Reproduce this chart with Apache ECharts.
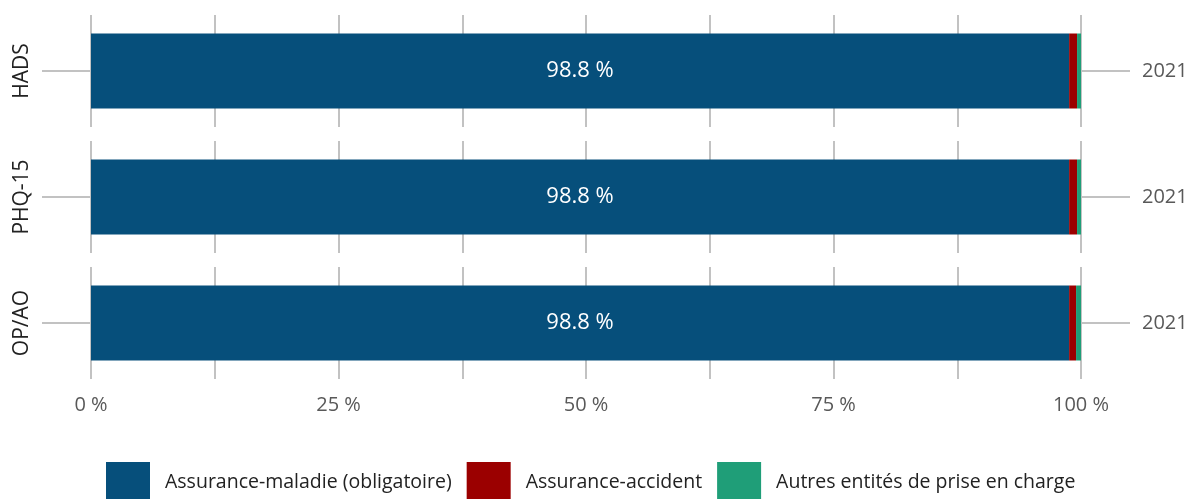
<!DOCTYPE html>
<html>
<head>
<meta charset="utf-8">
<script src="https://cdn.jsdelivr.net/npm/echarts@6/dist/echarts.min.js"></script>
<style>
  html, body { margin: 0; padding: 0; background: #fff; }
  #chart { width: 1192px; height: 499px; }
</style>
</head>
<body>
<div id="chart"></div>
<script>
// données
var categories = ['HADS', 'PHQ-15', 'OP/AO'];
var years = ['2021'];
var seriesNames = ['Assurance-maladie (obligatoire)', 'Assurance-accident', 'Autres entités de prise en charge'];
var maladie = [98.8, 98.8, 98.8];
var accident = [0.8, 0.8, 0.7];
var autres = [0.4, 0.4, 0.5];
var xTicks = [0, 25, 50, 75, 100];

var colors = ['#064f7b', '#9b0000', '#1f9e78'];
var font = 'Open Sans';

var chart = echarts.init(document.getElementById('chart'));

var grids = [], xAxes = [], yAxes = [], series = [];
var values = [maladie, accident, autres];

categories.forEach(function (cat, i) {
    grids.push({ left: 91, right: 111, top: 15 + i * 126, height: 112 });

    xAxes.push({
        type: 'value',
        gridIndex: i,
        min: 0,
        max: 100,
        interval: 12.5,
        axisLine: { show: false },
        axisTick: { show: false },
        splitLine: { lineStyle: { color: '#c2c2c2', width: 2 } },
        axisLabel: {
            show: i === categories.length - 1,
            margin: 16,
            fontFamily: font,
            fontSize: 20,
            color: '#595959',
            formatter: function (v) {
                return xTicks.indexOf(v) >= 0 ? v + ' %' : '';
            }
        }
    });

    // axe gauche : nom de l'instrument
    yAxes.push({
        type: 'category',
        gridIndex: i,
        position: 'left',
        data: [cat],
        axisLine: { show: false },
        axisTick: { show: true, alignWithLabel: true, length: 49, lineStyle: { color: '#c2c2c2', width: 2 } },
        axisLabel: { rotate: 90, margin: 58, fontFamily: font, fontSize: 21, color: '#222' }
    });
    // axe droit : année
    yAxes.push({
        type: 'category',
        gridIndex: i,
        position: 'right',
        data: years,
        axisLine: { show: false },
        axisTick: { show: true, alignWithLabel: true, length: 49, lineStyle: { color: '#c2c2c2', width: 2 } },
        axisLabel: { margin: 61, fontFamily: font, fontSize: 20, color: '#595959' }
    });

    seriesNames.forEach(function (name, k) {
        series.push({
            name: name,
            type: 'bar',
            stack: 'total' + i,
            xAxisIndex: i,
            yAxisIndex: i * 2,
            barWidth: 75,
            itemStyle: { color: colors[k] },
            label: {
                show: k === 0,
                position: 'inside',
                color: '#fff',
                fontFamily: font,
                fontSize: 22,
                formatter: function (p) { return p.value.toFixed(1) + ' %'; }
            },
            data: [values[k][i]]
        });
    });
});

var option = {
    animation: false,
    grid: grids,
    xAxis: xAxes,
    yAxis: yAxes,
    legend: {
        left: 101,
        top: 457,
        itemWidth: 44,
        itemHeight: 40,
        itemGap: 15,
        icon: 'rect',
        textStyle: { fontFamily: font, fontSize: 19.5, color: '#222', padding: [0, 0, 0, 10] },
        data: seriesNames
    },
    series: series
};

chart.setOption(option);
</script>
</body>
</html>
